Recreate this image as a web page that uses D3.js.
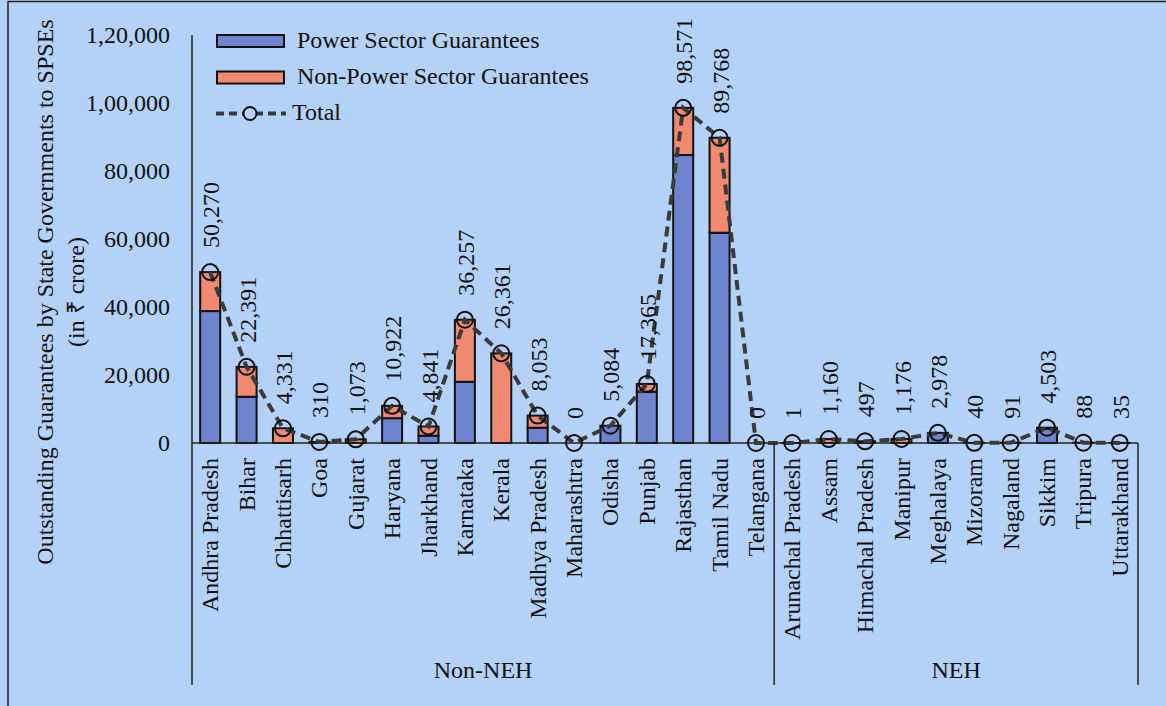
<!DOCTYPE html>
<html><head><meta charset="utf-8">
<script src="https://cdn.jsdelivr.net/npm/d3@7"></script>
<style>body{margin:0;background:#b4d2f7;} svg{display:block;}</style>
</head><body>
<svg id="c" width="1166" height="706"></svg>
<script>
const states = ["Andhra Pradesh","Bihar","Chhattisarh","Goa","Gujarat","Haryana","Jharkhand","Karnataka","Kerala","Madhya Pradesh","Maharashtra","Odisha","Punjab","Rajasthan","Tamil Nadu","Telangana","Arunachal Pradesh","Assam","Himachal Pradesh","Manipur","Meghalaya","Mizoram","Nagaland","Sikkim","Tripura","Uttarakhand"];
const total = [50270,22391,4331,310,1073,10922,4841,36257,26361,8053,0,5084,17365,98571,89768,0,1,1160,497,1176,2978,40,91,4503,88,35];
const power = [38800,13600,0,0,0,7300,2150,18000,0,4500,0,5084,15100,84700,61850,0,1,0,0,0,2978,40,91,4200,88,35];
const groups = [{name:"Non-NEH",from:0,to:15},{name:"NEH",from:16,to:25}];
const yTicks = [0,20000,40000,60000,80000,100000,120000];
const tickLabels = ["0","20,000","40,000","60,000","80,000","1,00,000","1,20,000"];
const seriesNames = ["Power Sector Guarantees","Non-Power Sector Guarantees","Total"];
const yTitle = "Outstanding Guarantees by State Governments to SPSEs";
const ySub = "(in ₹ crore)";
const nonPower = total.map((t,i)=>Math.max(0,t-power[i]));
</script>
<script>
const FONT = "'Liberation Serif','Times New Roman',serif";
const svg = d3.select("#c");
const C_POWER="#6f84cf", C_NON="#ef8a70", INK="#111";
// frame
svg.append("path").attr("d","M8,706 L8,1.5 L1166,1.5").attr("fill","none").attr("stroke","#222").attr("stroke-width",1.5);

const x = d3.scaleBand().domain(d3.range(states.length)).range([192,1138]).paddingInner(0);
const y = d3.scaleLinear().domain([0,120000]).range([443,35]);
const bw = 20;
const cx = i => x(i)+x.bandwidth()/2;

// y axis labels
const yAxis = d3.axisLeft(y).tickValues(yTicks).tickFormat((d,i)=>tickLabels[i]).tickSize(0).tickPadding(22);
const ga = svg.append("g").attr("transform","translate(192,0)").call(yAxis);
ga.select(".domain").remove();
ga.attr("font-family",FONT);
ga.selectAll("text").attr("font-size",24).attr("font-family",FONT).attr("fill",INK).attr("dy","0.32em");
svg.append("line").attr("x1",192).attr("x2",192).attr("y1",35).attr("y2",685).attr("stroke","#222").attr("stroke-width",1.5);

// y axis title (two centred lines)
svg.append("text").attr("transform","translate(53,292) rotate(-90)").attr("text-anchor","middle").attr("font-family",FONT).attr("font-size",24).attr("fill",INK).text(yTitle);
svg.append("text").attr("transform","translate(84,292) rotate(-90)").attr("text-anchor","middle").attr("font-family",FONT).attr("font-size",24).attr("fill",INK).text(ySub);

// bars
const g = svg.append("g");
g.selectAll("rect.p").data(power).join("rect").attr("class","p")
  .attr("x",(d,i)=>cx(i)-bw/2).attr("width",bw)
  .attr("y",d=>y(d)).attr("height",d=>y(0)-y(d))
  .attr("fill",C_POWER).attr("stroke",INK).attr("stroke-width",2)
  .attr("display",d=>d>0?null:"none");
g.selectAll("rect.n").data(nonPower).join("rect").attr("class","n")
  .attr("x",(d,i)=>cx(i)-bw/2).attr("width",bw)
  .attr("y",(d,i)=>y(power[i]+d)).attr("height",(d,i)=>y(power[i])-y(power[i]+d))
  .attr("fill",C_NON).attr("stroke",INK).attr("stroke-width",2)
  .attr("display",d=>d>0?null:"none");

// baseline
svg.append("line").attr("x1",192).attr("x2",1138).attr("y1",443).attr("y2",443).attr("stroke","#222").attr("stroke-width",1.5);

// total line
const line = d3.line().x((d,i)=>cx(i)).y(d=>y(d));
svg.append("path").datum(total).attr("d",line).attr("fill","none").attr("stroke","#3a3a3a").attr("stroke-width",4).attr("stroke-dasharray","10,6");
svg.selectAll("circle.t").data(total).join("circle").attr("class","t")
  .attr("cx",(d,i)=>cx(i)).attr("cy",d=>y(d)).attr("r",8)
  .attr("fill","none").attr("stroke",INK).attr("stroke-width",2);

// data labels
const fmt = d3.format(",");
svg.selectAll("text.dl").data(total).join("text").attr("class","dl")
  .attr("transform",(d,i)=>`translate(${cx(i)+9},${y(d)-24}) rotate(-90)`)
  .attr("font-family",FONT).attr("font-size",24).attr("fill",INK).text(d=>fmt(d));

// x labels
svg.selectAll("text.xl").data(states).join("text").attr("class","xl")
  .attr("transform",(d,i)=>`translate(${cx(i)+8},458) rotate(-90)`)
  .attr("text-anchor","end").attr("font-family",FONT).attr("font-size",24).attr("fill",INK).text(d=>d);

// group separators and labels
groups.forEach(gr=>{
  const xr = x(gr.to)+x.bandwidth();
  svg.append("line").attr("x1",xr).attr("x2",xr).attr("y1",443).attr("y2",685).attr("stroke","#222").attr("stroke-width",1.5);
  const mid = (x(gr.from)+xr)/2;
  svg.append("text").attr("x",mid).attr("y",678).attr("text-anchor","middle").attr("font-family",FONT).attr("font-size",24).attr("fill",INK).text(gr.name);
});

// legend
const lg = svg.append("g");
lg.append("rect").attr("x",217).attr("y",35).attr("width",67).attr("height",12).attr("fill",C_POWER).attr("stroke",INK).attr("stroke-width",2);
lg.append("rect").attr("x",217).attr("y",71.5).attr("width",67).attr("height",12).attr("fill",C_NON).attr("stroke",INK).attr("stroke-width",2);
lg.append("line").attr("x1",216).attr("x2",286).attr("y1",113.5).attr("y2",113.5).attr("stroke","#3a3a3a").attr("stroke-width",4).attr("stroke-dasharray","8,5");
lg.append("circle").attr("cx",250).attr("cy",113.5).attr("r",6.5).attr("fill","#b4d2f7").attr("stroke",INK).attr("stroke-width",2);
lg.append("text").attr("x",297).attr("y",48).attr("font-family",FONT).attr("font-size",24).attr("fill",INK).text(seriesNames[0]);
lg.append("text").attr("x",297).attr("y",84).attr("font-family",FONT).attr("font-size",24).attr("fill",INK).text(seriesNames[1]);
lg.append("text").attr("x",292).attr("y",120).attr("font-family",FONT).attr("font-size",24).attr("fill",INK).text(seriesNames[2]);
</script>
</body></html>
